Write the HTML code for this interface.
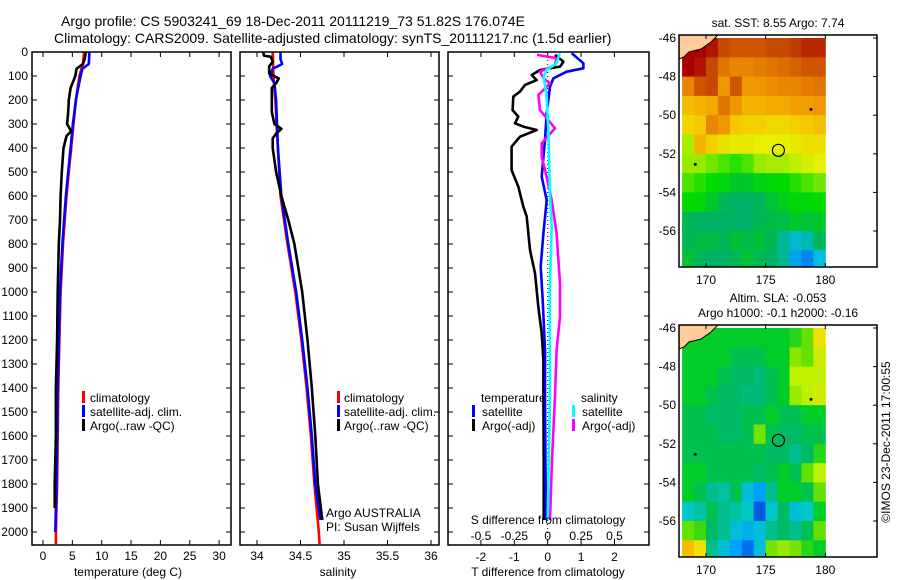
<!DOCTYPE html>
<html><head><meta charset="utf-8"><style>
body{margin:0;background:#fff}
svg{display:block;font-family:"Liberation Sans",sans-serif}
</style></head><body>
<svg id="fig" width="900" height="580" xmlns="http://www.w3.org/2000/svg">
<g id="g"></g>
</svg>
<script>
// ---- data ----
const tDepth=[0,50,100,150,200,300,400,500,600,700,800,900,1000,1200,1400,1600,1800,2000,2050];
const tClim=[7.0,6.8,6.2,5.9,5.6,5.2,4.8,4.4,4.0,3.7,3.4,3.2,3.0,2.8,2.6,2.5,2.4,2.2,2.2];
const tSatDepth=[0,50,70,100,150,200,300,400,500,600,700,800,1000,1200,1400,1600,1800,2000];
const tSat=[7.9,7.8,6.7,6.4,6.0,5.6,5.1,4.7,4.3,3.9,3.6,3.3,2.9,2.7,2.5,2.4,2.3,2.1];
const tArgoDepth=[0,30,50,70,100,150,200,250,300,330,350,400,500,600,700,800,1000,1200,1400,1600,1800,1900];
const tArgo=[7.3,7.1,6.8,5.7,5.5,4.7,4.4,4.3,4.1,4.8,4.0,3.5,3.2,3.0,2.9,2.7,2.5,2.4,2.2,2.2,2.0,2.0];

const sClimDepth=[0,100,200,400,600,800,1000,1200,1400,1600,1800,2000,2050];
const sClim=[34.18,34.19,34.21,34.24,34.27,34.35,34.44,34.51,34.57,34.62,34.66,34.71,34.72];
const sSatDepth=[0,30,50,70,100,130,200,400,600,800,1000,1200,1400,1600,1800,1950];
const sSat=[34.27,34.27,34.29,34.18,34.15,34.2,34.22,34.24,34.28,34.36,34.45,34.52,34.58,34.63,34.67,34.73];
const sArgoDepth=[0,15,20,40,60,90,110,130,150,200,250,300,320,340,360,400,500,600,700,800,1000,1200,1400,1600,1800,1950];
const sArgo=[34.07,34.08,34.16,34.18,34.14,34.14,34.25,34.22,34.17,34.17,34.17,34.2,34.28,34.22,34.18,34.18,34.22,34.28,34.36,34.43,34.52,34.58,34.63,34.67,34.70,34.75];

const dTArgoDepth=[12,40,61,75,96,117,137,165,186,242,269,297,311,325,353,394,492,561,644,686,825,922,1061,1172,1283,1436,1700,1950];
const dTArgo=[0.22,0.47,0.37,-0.23,-0.48,-0.33,-0.68,-0.83,-1.03,-1.05,-0.88,-0.98,-0.73,-0.33,-0.83,-1.08,-1.08,-0.88,-0.73,-0.63,-0.53,-0.38,-0.28,-0.18,-0.13,-0.13,-0.12,-0.12];
const dTSatDepth=[5,47,68,82,110,144,255,366,519,617,756,894,1033,1242,1436,1700,1950];
const dTSat=[0.72,1.07,1.07,0.57,0.17,0.07,-0.03,-0.08,-0.18,-0.03,-0.13,-0.21,-0.15,-0.08,-0.08,-0.07,-0.05];
const dSArgoDepth=[12,26,54,82,110,131,179,242,318,380,436,519,617,756,964,1103,1242,1436,1700,1950];
const dSArgo=[-0.08,0.067,0.055,-0.058,-0.03,0.017,-0.07,-0.058,0.055,-0.045,-0.045,-0.008,0.03,0.067,0.092,0.092,0.067,0.055,0.032,0.017];
const dSSatDepth=[5,47,75,103,186,325,603,728,1000,1436,1950];
const dSSat=[0.09,0.067,-0.008,-0.03,-0.008,0.005,0.017,0.03,0.015,0.017,0.0];

const depthTicks=[0,100,200,300,400,500,600,700,800,900,1000,1100,1200,1300,1400,1500,1600,1700,1800,1900,2000];
const tempTicks=[0,5,10,15,20,25,30];
const salTicks=[34,34.5,35,35.5,36];
const salTickLabels=["34","34.5","35","35.5","36"];
const dTTicks=[-2,-1,0,1,2];
const dSTicks=[-0.5,-0.25,0,0.25,0.5];
const dSTickLabels=["-0.5","-0.25","0","0.25","0.5"];

const lonTicks=[170,175,180];
const latTicks=[-46,-48,-50,-52,-54,-56];
const mapLons=[168,169,170,171,172,173,174,175,176,177,178,179];
const mapLats=[-46,-47,-48,-49,-50,-51,-52,-53,-54,-55,-56,-57];
const sst=[
[11,11,10.9,10.6,10.5,10.5,10.5,10.6,10.6,10.7,10.8,10.8],
[11,10.9,10.6,10.2,10,10,10.1,10.2,10.3,10.4,10.5,10.5],
[10,10.5,10.6,9.8,10.5,9.8,9.8,9.9,10,10,10.1,10.2],
[9.4,9.5,9.6,10.2,9.8,9.5,9.5,9.6,9.6,9.7,9.7,9.8],
[9.1,9.3,10,9.8,9.3,9.2,9.2,9.1,9.1,9.2,9.3,9.4],
[8.5,9.5,9.2,9,8.9,8.9,8.8,8.8,8.8,8.9,9,9],
[8.4,8.4,8.3,8.2,8.1,8.2,8.4,8.5,8.5,8.6,8.7,8.8],
[8.2,8.1,8,7.9,7.6,7.6,7.8,7.9,8.0,8.1,8.2,8.3],
[8,7.9,7.6,7.3,7.2,7.2,7.3,7.5,7.7,7.9,7.9,8],
[7.3,7.2,7.2,7.2,7.2,7.2,7.3,7.4,7.4,7.6,7.5,7.6],
[7.3,7.4,7.4,7.3,7.5,7.4,7.5,7.3,7.0,6.8,6.9,7.3],
[7.5,7.3,7.2,7.2,7.3,7.5,7.3,7.2,7.0,6.6,6.5,6.7]];
const sla=[
[0,0,0,0,0,0,0,0,0,0.02,0.05,0.15],
[0,0,0,0,-0.02,-0.02,-0.02,0,0,0.07,0.05,0.12],
[0,0,0,-0.02,-0.03,-0.03,-0.04,-0.02,0,0.1,0.1,0.1],
[0,0,-0.02,-0.03,-0.03,-0.04,-0.04,-0.02,0,0.08,0.1,0.12],
[-0.02,-0.02,-0.03,-0.03,-0.03,-0.02,-0.02,0,-0.02,-0.02,0,0],
[-0.02,-0.02,-0.02,-0.03,-0.03,-0.02,0.06,-0.02,-0.03,-0.03,-0.02,-0.02],
[-0.02,-0.02,-0.02,-0.02,-0.02,-0.02,-0.02,-0.03,-0.03,-0.05,-0.03,0.02],
[0,0,-0.02,-0.02,-0.02,-0.02,-0.03,-0.02,0,-0.02,0.05,0.1],
[0,-0.02,-0.05,-0.06,-0.02,-0.1,-0.15,-0.05,0,0,-0.02,0.05],
[-0.08,-0.06,-0.02,-0.05,-0.06,-0.08,-0.22,-0.08,-0.03,-0.1,-0.08,0],
[0.05,0.03,-0.03,-0.05,-0.1,-0.12,-0.1,-0.05,-0.03,-0.05,-0.02,0.05],
[0.18,0.15,-0.05,-0.1,-0.15,-0.2,-0.1,0.06,0.08,0.06,0.02,0]];
const argoLon=176.07, argoLat=-51.82;

// ---- helpers ----
const NS="http://www.w3.org/2000/svg";
const G=document.getElementById('g');
function mk(tag,at,parent){const e=document.createElementNS(NS,tag);for(const k in at)e.setAttribute(k,at[k]);(parent||G).appendChild(e);return e;}
function txt(x,y,s,size,anchor,name){const t=mk('text',{x:x,y:y,'font-size':size,'text-anchor':anchor||'start',fill:'#000'});t.textContent=s;


return t;}
const yD=d=>52+d*0.24;
const xT=v=>43+v*5.87;
const xS=v=>257+(v-34)*87;
const xDT=v=>547.7+v*33.4;
const xDS=v=>547.7+v*133.5;
function line(depths,vals,fx,color,name){
 const p=depths.map((d,i)=>fx(vals[i]).toFixed(1)+','+yD(d).toFixed(1)).join(' ');
 const e=mk('polyline',{points:p,fill:'none',stroke:color,'stroke-width':2.6,'stroke-linejoin':'round'});
 
 
}
function frame(x,y,w,h,name){const r=mk('rect',{x:x,y:y,width:w,height:h,fill:'none',stroke:'#000','stroke-width':1.5});
 
 }
function vtick(x,y0,y1){mk('line',{x1:x,x2:x,y1:y0,y2:y1,stroke:'#000','stroke-width':1});}
function htick(y,x0,x1){mk('line',{x1:x0,x2:x1,y1:y,y2:y,stroke:'#000','stroke-width':1});}
function legMark(x,y,color,name){const r=mk('rect',{x:x,y:y-10,width:3,height:12,fill:color});
 
 }

// titles
txt(61,26,'Argo profile: CS 5903241_69 18-Dec-2011 20111219_73 51.82S 176.074E',14,'start','title-line-1');
txt(54,43,'Climatology: CARS2009. Satellite-adjusted climatology: synTS_20111217.nc (1.5d earlier)',14,'start','title-line-2');

// panel 1
const B=545;
depthTicks.forEach(d=>{htick(yD(d),32,37);htick(yD(d),226,231);txt(28,yD(d)+4,String(d),12,'end','depth-tick-label');});
tempTicks.forEach(v=>{vtick(xT(v),B,B-5);vtick(xT(v),52,57);txt(xT(v),560,String(v),12,'middle','temp-tick-label');});
line(tDepth,tClim,xT,'#ff0000','temp-climatology-line');
line(tSatDepth,tSat,xT,'#0000ff','temp-satellite-line');
line(tArgoDepth,tArgo,xT,'#000000','temp-argo-line');
frame(32,52,199,493,'temperature-panel');
txt(128,576,'temperature (deg C)',12,'middle','temperature-axis-title');
legMark(82,401,'#ff0000','legend-climatology-marker');txt(90,402,'climatology',12,'start','legend-climatology');
legMark(82,415,'#0000ff','legend-satellite-marker');txt(90,416,'satellite-adj. clim.',12,'start','legend-satellite');
legMark(82,429,'#000000','legend-argo-marker');txt(90,430,'Argo(..raw -QC)',12,'start','legend-argo');

// panel 2
depthTicks.forEach(d=>{htick(yD(d),240,245);htick(yD(d),434,439);});
salTicks.forEach((v,i)=>{vtick(xS(v),B,B-5);vtick(xS(v),52,57);txt(xS(v),560,salTickLabels[i],12,'middle','salinity-tick-label');});
line(sClimDepth,sClim,xS,'#ff0000','sal-climatology-line');
line(sSatDepth,sSat,xS,'#0000ff','sal-satellite-line');
line(sArgoDepth,sArgo,xS,'#000000','sal-argo-line');
frame(240,52,199,493,'salinity-panel');
txt(338,576,'salinity',12,'middle','salinity-axis-title');
legMark(337,401,'#ff0000','legend2-climatology-marker');txt(344,402,'climatology',12,'start','legend2-climatology');
legMark(337,415,'#0000ff','legend2-satellite-marker');txt(344,416,'satellite-adj. clim.',12,'start','legend2-satellite');
legMark(337,429,'#000000','legend2-argo-marker');txt(344,430,'Argo(..raw -QC)',12,'start','legend2-argo');
txt(326,517,'Argo AUSTRALIA',12,'start','argo-australia-label');
txt(326,531,'PI: Susan Wijffels',12,'start','pi-label');

// panel 3
depthTicks.forEach(d=>{htick(yD(d),448,453);htick(yD(d),644,649);});
dTTicks.forEach(v=>{vtick(xDT(v),B,B-5);txt(xDT(v),561,String(v),12,'middle','tdiff-tick-label');});
dSTicks.forEach((v,i)=>{vtick(xDS(v),52,57);txt(xDS(v),540,dSTickLabels[i],12,'middle','sdiff-tick-label');});
mk('line',{x1:xDT(0),x2:xDT(0),y1:52,y2:B,stroke:'#000','stroke-width':1,'stroke-dasharray':'1,3'});
line(dTArgoDepth,dTArgo,xDT,'#000000','tdiff-argo-line');
line(dTSatDepth,dTSat,xDT,'#0000ff','tdiff-satellite-line');
line(dSArgoDepth,dSArgo,xDS,'#ff00ff','sdiff-argo-line');
line(dSSatDepth,dSSat,xDS,'#00ffff','sdiff-satellite-line');
frame(448,52,201,493,'difference-panel');
txt(548,576,'T difference from climatology',12,'middle','tdiff-axis-title');
txt(548,524,'S difference from climatology',12,'middle','sdiff-axis-title');
txt(481,402,'temperature',12,'start','legend3-temperature-heading');
legMark(472,415,'#0000ff','legend3-tsat-marker');txt(482,416,'satellite',12,'start','legend3-tsat');
legMark(472,429,'#000000','legend3-targo-marker');txt(482,430,'Argo(-adj)',12,'start','legend3-targo');
txt(581,402,'salinity',12,'start','legend3-salinity-heading');
legMark(572,415,'#00ffff','legend3-ssat-marker');txt(582,416,'satellite',12,'start','legend3-ssat');
legMark(572,429,'#ff00ff','legend3-sargo-marker');txt(582,430,'Argo(-adj)',12,'start','legend3-sargo');

// maps
function lerpColor(stops,v){
 if(v<=stops[0][0])return stops[0][1];
 for(let i=1;i<stops.length;i++){if(v<=stops[i][0]){const a=stops[i-1],b=stops[i],t=(v-a[0])/(b[0]-a[0]);
  const c=a[1].map((x,k)=>Math.round(x+(b[1][k]-x)*t));return c;}}
 return stops[stops.length-1][1];}
const sstStops=[[6.3,[0,80,255]],[6.7,[0,190,230]],[7.2,[0,176,100]],[7.6,[0,200,40]],[8.0,[0,220,0]],[8.4,[150,235,0]],[8.8,[230,240,0]],[9.3,[245,200,0]],[9.8,[240,150,0]],[10.3,[220,110,0]],[10.7,[190,60,0]],[11,[170,0,0]]];
const slaStops=[[-0.25,[0,60,220]],[-0.15,[0,160,255]],[-0.08,[0,200,200]],[-0.03,[0,185,100]],[0,[0,205,40]],[0.05,[100,225,0]],[0.1,[190,240,0]],[0.15,[240,225,0]],[0.2,[245,165,0]]];
function drawMap(top,data,stops,name,title1,title2){
 const L=679,W=198,H=232;
 const xL=lon=>706+(lon-170)*11.93, yL=lat=>top+3+(-46-lat)*19.3;
 const grp=mk('g',{});
 
 
 data.forEach((row,i)=>row.forEach((v,j)=>{
  const x0=Math.max(L,xL(mapLons[j])),x1=xL(mapLons[j]+1);
  const y0=Math.max(top,yL(mapLats[i])),y1=Math.min(top+H,yL(mapLats[i]-1));
  const c=lerpColor(stops,v);
  const r=mk('rect',{x:x0.toFixed(1),y:y0.toFixed(1),width:(x1-x0+0.5).toFixed(1),height:(y1-y0+0.5).toFixed(1),fill:'rgb('+c.join(',')+')'},grp);
  
  
 }));
 mk('polygon',{points:`${L},${top} ${L+39},${top} ${L+32},${top+7} ${L+22},${top+14} ${L+10},${top+17} ${L+5},${top+22} ${L},${top+24}`,fill:'#ffcc99',stroke:'#000','stroke-width':1},grp);
 mk('circle',{cx:xL(169.1),cy:yL(-52.55),r:1.5,fill:'#000'},grp);
 mk('circle',{cx:xL(178.8),cy:yL(-49.7),r:1.5,fill:'#000'},grp);
 const c=mk('circle',{cx:xL(argoLon),cy:yL(argoLat),r:6,fill:'none',stroke:'#000','stroke-width':1.2},grp);
 
 
 frame(L,top,W,H,name+'-frame');
 lonTicks.forEach(v=>{vtick(xL(v),top,top+4);vtick(xL(v),top+H,top+H-4);txt(xL(v),top+H+17,String(v),12,'middle','lon-tick-label');});
 latTicks.forEach(v=>{htick(yL(v),L+W,L+W-4);txt(676,yL(v)+4,String(v),12,'end','lat-tick-label');});
 if(title2){txt(778,top-23,title1,12,'middle',name+'-title-1');txt(778,top-8,title2,12,'middle',name+'-title-2');}
 else txt(778,top-8,title1,12,'middle',name+'-title');
}
drawMap(35,sst,sstStops,'sst-map','sat. SST: 8.55 Argo: 7.74');
drawMap(325,sla,slaStops,'sla-map','Altim. SLA: -0.053','Argo h1000: -0.1 h2000: -0.16');
const d=txt(0,0,'©IMOS 23-Dec-2011 17:00:55',12,'middle','timestamp-label');
d.setAttribute('transform','translate(890,442) rotate(-90)');
</script>
</body></html>
